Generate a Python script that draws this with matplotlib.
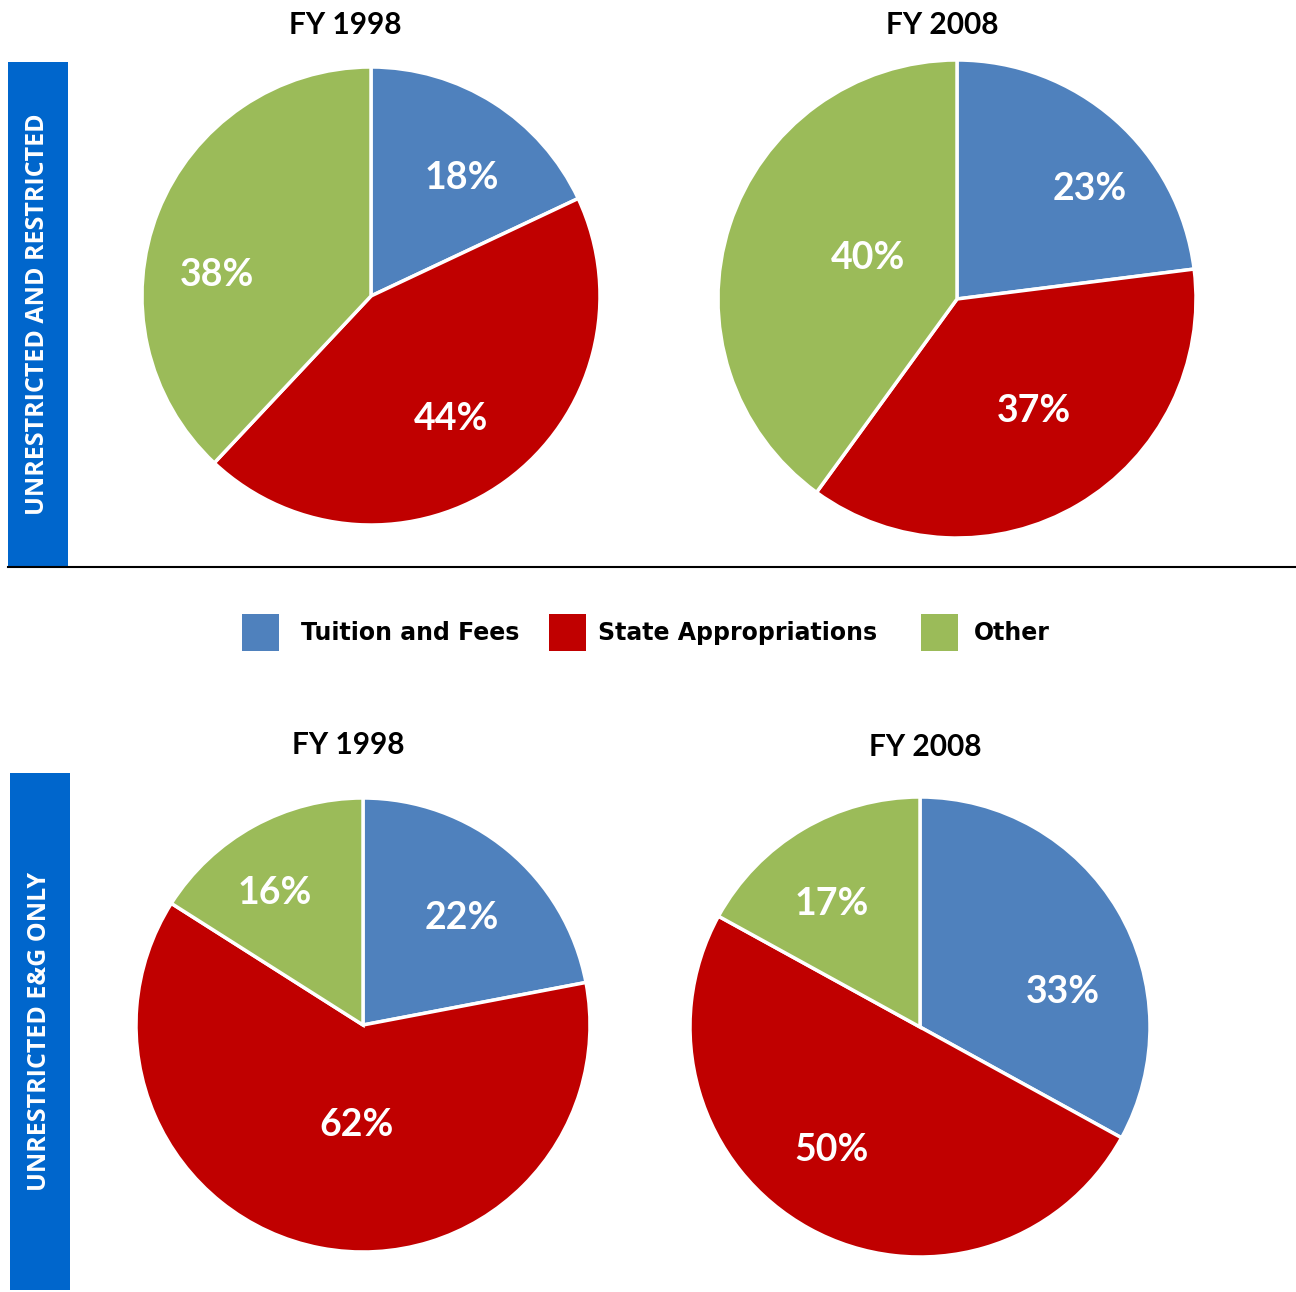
import numpy as np
import matplotlib
matplotlib.use("Agg")
import matplotlib.pyplot as plt  # noqa: E402
from matplotlib.patches import Rectangle  # noqa: E402
from matplotlib.lines import Line2D  # noqa: E402

# ─────────────────────────────────────────────
# DATA
# ─────────────────────────────────────────────
categories = ["Tuition and Fees", "State Appropriations", "Other"]
years = ["FY 1998", "FY 2008"]
panel_labels = ["UNRESTRICTED AND RESTRICTED", "UNRESTRICTED E&G ONLY"]

all_funds_1998 = [18, 44, 38]
all_funds_2008 = [23, 37, 40]
eg_only_1998 = [22, 62, 16]
eg_only_2008 = [33, 50, 17]

COLORS = ["#4F81BD", "#C00000", "#9BBB59"]
BAR_BLUE = "#0066CC"

W, H = 1296, 1292
fig = plt.figure(figsize=(W / 100, H / 100), dpi=100)
fig.patch.set_facecolor("white")


def _axes_px(cx, cy, r):
    """Square axes centred on pixel (cx, cy) measured from top-left."""
    return fig.add_axes([(cx - r) / W, 1 - (cy + r) / H, 2 * r / W, 2 * r / H])


def _pie(cx, cy, r, values, title, title_x, title_y, label_style):
    # label_style: per-wedge (radius fraction, clockwise angle nudge in deg),
    # mimicking Excel's "best fit" label placement
    ax = _axes_px(cx, cy, r)
    wedges, _, autotexts = ax.pie(
        values, colors=COLORS, startangle=90, counterclock=False,
        autopct=lambda p: f"{p:.0f}%", pctdistance=0.64,
        wedgeprops=dict(edgecolor="white", linewidth=2.5),
        textprops=dict(color="white", fontsize=27, fontweight="bold",
                       family="Lato"),
    )
    for w, t, (rf, nudge) in zip(wedges, autotexts, label_style):
        ang = np.deg2rad((w.theta1 + w.theta2) / 2 - nudge)
        t.set_position((rf * np.cos(ang), rf * np.sin(ang)))
    ax.set_xlim(-1, 1)
    ax.set_ylim(-1, 1)
    ax.set_aspect("equal")
    ax.axis("off")
    fig.text(title_x / W, 1 - title_y / H, title, ha="center", va="center",
             fontsize=21.5, fontweight="bold", family="Lato")


def _side_bar(x0, y0, x1, y1, label):
    fig.patches.append(Rectangle((x0 / W, 1 - y1 / H), (x1 - x0) / W,
                                 (y1 - y0) / H, transform=fig.transFigure,
                                 facecolor=BAR_BLUE, edgecolor="none"))
    fig.text((x0 + x1) / 2 / W, 1 - (y0 + y1) / 2 / H, label, rotation=90,
             ha="center", va="center", color="white", fontsize=18,
             fontweight="bold", family="Open Sans")


# top panel
_side_bar(8, 62, 68, 566, panel_labels[0])
_pie(371, 296, 229, all_funds_1998, years[0], 345, 25,
     [(0.65, 5), (0.64, 3), (0.68, -14)])
_pie(957, 299, 239, all_funds_2008, years[1], 942, 25,
     [(0.72, 9), (0.57, -4), (0.41, 7)])
fig.add_artist(Line2D([8 / W, 1], [1 - 567 / H] * 2, color="black",
                      linewidth=1.5, transform=fig.transFigure))

# legend
leg_box_x = [242, 549, 921]
leg_text_x = [301, 598, 974]
for bx, tx, col, name in zip(leg_box_x, leg_text_x, COLORS, categories):
    fig.patches.append(Rectangle((bx / W, 1 - 651 / H), 37 / W, 37 / H,
                                 transform=fig.transFigure,
                                 facecolor=col, edgecolor="none"))
    fig.text(tx / W, 1 - 633 / H, name, ha="left", va="center",
             fontsize=17, fontweight="bold", family="DejaVu Sans")

# bottom panel
_side_bar(10, 773, 70, 1290, panel_labels[1])
_pie(363, 1025, 227, eg_only_1998, years[0], 348, 745,
     [(0.64, 3), (0.44, -7), (0.70, -5)])
_pie(920, 1027, 230, eg_only_2008, years[1], 925, 747,
     [(0.64, 17), (0.66, 7), (0.66, -5)])

fig.savefig("out.png", dpi=100, facecolor="white")
